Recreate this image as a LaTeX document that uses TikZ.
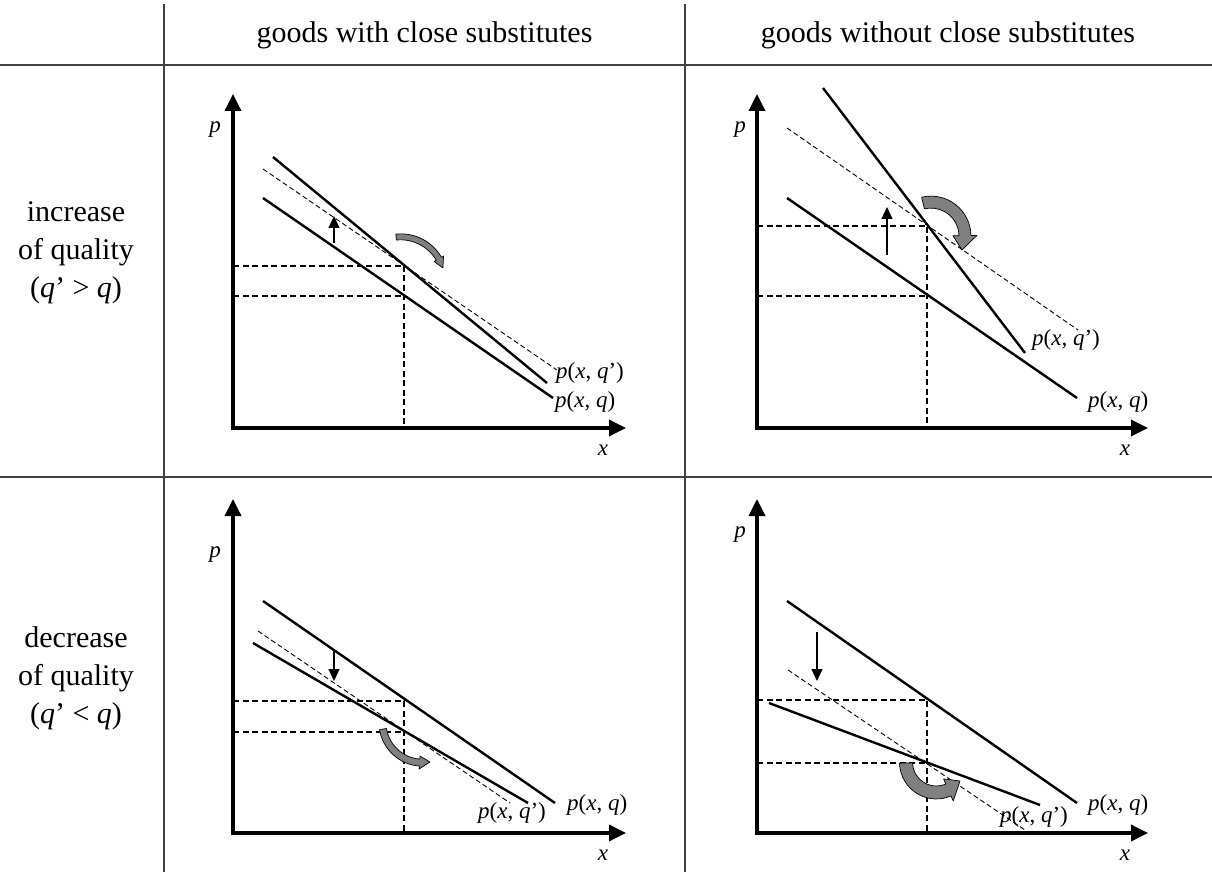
\documentclass[tikz,border=0pt]{standalone}
\usepackage{fontspec}
\setmainfont{Liberation Serif}
\usetikzlibrary{arrows.meta}
\tikzset{
  grid/.style={line width=1.3pt, black!75},
  axes/.style={line width=3.5pt, line join=miter,
    {Triangle[length=17pt,width=16pt]}-{Triangle[length=17pt,width=16pt]}},
  demand/.style={line width=2.4pt},
  shifted/.style={line width=0.9pt, dash pattern=on 5pt off 3pt},
  guide/.style={line width=1.1pt, dash pattern=on 6pt off 3.5pt},
  shiftarrow/.style={line width=1.3pt, -{Triangle[length=12pt,width=11pt]}},
  bendarrow/.style={fill=black!50, draw=black, line width=0.7pt, line join=round},
  headtext/.style={font=\fontsize{30}{38}\selectfont},
  curvelbl/.style={font=\fontsize{23}{26}\selectfont, anchor=west, inner sep=0pt},
  axlbl/.style={font=\fontsize{23}{26}\selectfont\itshape, inner sep=0pt},
}
% #1 mx, #2 my, #3 chord angle, #4 R, #5 theta, #6 body width, #7 head width, #8 head angle, #9 flip
\newcommand\curvarrow[9]{%
  \begin{scope}[shift={(#1,#2)}, rotate=#3, yscale=-1, yscale=#9]
    \begin{scope}[shift={(0,{-#4*cos(#5)})}]
      \path[bendarrow] ({90+#5}:{#4-#6/2}) -- ({90+#5}:{#4+#6/2})
        arc[start angle={90+#5}, end angle={90-#5+#8}, radius={#4+#6/2}]
        -- ({90-#5+#8}:{#4+#7/2}) -- ({90-#5}:#4) -- ({90-#5+#8}:{#4-#7/2})
        -- ({90-#5+#8}:{#4-#6/2})
        arc[start angle={90-#5+#8}, end angle={90+#5}, radius={#4-#6/2}] -- cycle;
    \end{scope}
  \end{scope}}
\begin{document}
\begin{tikzpicture}[x=1pt,y=-1pt]
\useasboundingbox (0,0) rectangle (1212,874);
% table
\draw[grid] (0,65) -- (1212,65);
\draw[grid] (0,477) -- (1212,477);
\draw[grid] (164,4) -- (164,872);
\draw[grid] (685,4) -- (685,872);
\node[headtext] (h1) at (424.5,35) {goods with close substitutes};
\node[headtext] (h2) at (948,35) {goods without close substitutes};
\node[headtext, align=center] (r1) at (76,253) {increase\\of quality\\(\textit{q}’ > \textit{q})};
\node[headtext, align=center] (r2) at (76,678) {decrease\\of quality\\(\textit{q}’ < \textit{q})};

% ---------- panel 1 ----------
\coordinate (a1y) at (233,94); \coordinate (a1o) at (233,428); \coordinate (a1x) at (626,428);
\draw[axes] (a1y) -- (a1o) -- (a1x);
\draw[guide] (233,266) -- (404,266) -- (404,428);
\draw[guide] (233,296) -- (404,296);
\draw[demand] (273,157) -- (547,383);
\draw[shifted] (263,169) -- (557,370);
\draw[demand] (263,198) -- (553,398);
\coordinate (s1a) at (334,243); \coordinate (s1b) at (334,216);
\draw[shiftarrow] (s1a) -- (s1b);
\curvarrow{419.5}{252.5}{-33.4}{44}{39.5}{6}{11}{13}{1}
\node[axlbl] (p1) at (215,130) {p};
\node[axlbl] (x1) at (603,450) {x};
\node[curvelbl] (l1a) at (556,373) {\textit{p}(\textit{x}, \textit{q}’)};
\node[curvelbl] (l1b) at (555,402) {\textit{p}(\textit{x}, \textit{q})};

% ---------- panel 2 ----------
\coordinate (a2y) at (757,94); \coordinate (a2o) at (757,428); \coordinate (a2x) at (1148,428);
\draw[axes] (a2y) -- (a2o) -- (a2x);
\draw[guide] (757,226) -- (927,226) -- (927,428);
\draw[guide] (757,296) -- (927,296);
\draw[demand] (823,88) -- (1025,353);
\draw[shifted] (787,128) -- (1078,330);
\draw[demand] (787,198) -- (1077,398);
\coordinate (s2a) at (887,255); \coordinate (s2b) at (887,207);
\draw[shiftarrow] (s2a) -- (s2b);
\curvarrow{942.5}{226.5}{-50.3}{34}{63.8}{12}{24}{25}{1}
\node[axlbl] (p2) at (740,130) {p};
\node[axlbl] (x2) at (1125,450) {x};
\node[curvelbl] (l2a) at (1032,340) {\textit{p}(\textit{x}, \textit{q}’)};
\node[curvelbl] (l2b) at (1088,402) {\textit{p}(\textit{x}, \textit{q})};

% ---------- panel 3 ----------
\coordinate (a3y) at (233,499); \coordinate (a3o) at (233,833); \coordinate (a3x) at (626,833);
\draw[axes] (a3y) -- (a3o) -- (a3x);
\draw[guide] (233,701) -- (404,701) -- (404,833);
\draw[guide] (233,732) -- (404,732);
\draw[demand] (263,601) -- (555,803);
\draw[shifted] (258,631) -- (510,803);
\draw[demand] (253,643) -- (528,803);
\coordinate (s3a) at (334,650); \coordinate (s3b) at (334,681);
\draw[shiftarrow] (s3a) -- (s3b);
\curvarrow{406.5}{745.5}{-35}{40}{45.8}{7}{13}{15}{-1}
\node[axlbl] (p3) at (215,555) {p};
\node[axlbl] (x3) at (603,855) {x};
\node[curvelbl] (l3a) at (478,813) {\textit{p}(\textit{x}, \textit{q}’)};
\node[curvelbl] (l3b) at (567,805) {\textit{p}(\textit{x}, \textit{q})};

% ---------- panel 4 ----------
\coordinate (a4y) at (757,499); \coordinate (a4o) at (757,833); \coordinate (a4x) at (1148,833);
\draw[axes] (a4y) -- (a4o) -- (a4x);
\draw[guide] (757,700) -- (927,700) -- (927,833);
\draw[guide] (757,763) -- (927,763);
\draw[demand] (787,601) -- (1077,803);
\draw[shifted] (788,670) -- (1025,830);
\draw[demand] (769,703) -- (1040,805);
\coordinate (s4a) at (817,632); \coordinate (s4b) at (817,681);
\draw[shiftarrow] (s4a) -- (s4b);
\curvarrow{933}{772}{-18.4}{30.3}{70}{13}{24}{28}{-1}
\node[axlbl] (p4) at (740,535) {p};
\node[axlbl] (x4) at (1125,855) {x};
\node[curvelbl] (l4a) at (1000,817) {\textit{p}(\textit{x}, \textit{q}’)};
\node[curvelbl] (l4b) at (1088,805) {\textit{p}(\textit{x}, \textit{q})};
\end{tikzpicture}
\end{document}
